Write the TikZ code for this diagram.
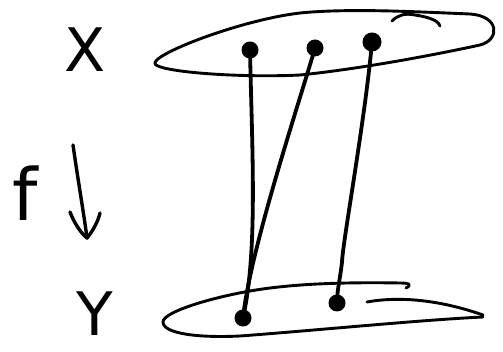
\documentclass[tikz,border=0pt]{standalone}
\usepackage{fontspec}
\setsansfont{DejaVu Sans}
\usetikzlibrary{arrows.meta}
\begin{document}
\begin{tikzpicture}[x=1pt,y=-1pt,
  blob/.style={line width=2.9pt,line cap=round,line join=round},
  map/.style={line width=3.8pt,line cap=round},
  pt/.style={circle,fill=black,inner sep=0pt,minimum width=17pt,minimum height=16pt},
  lbl/.style={font=\sffamily\fontsize{60}{60}\selectfont,inner sep=0pt}]
\useasboundingbox (0,0) rectangle (503,352);
% top set X
\draw[blob] (155,64) .. controls (150,55) and (240,20) .. (300,13)
  .. controls (350,8) and (420,12) .. (470,14)
  .. controls (500,16) and (500,40) .. (480,45)
  .. controls (420,58) and (350,70) .. (300,75)
  .. controls (240,78) and (160,72) .. (155,64);
\draw[blob] (392,21) .. controls (398,15) and (405,13) .. (415,15)
  .. controls (428,17) and (438,20) .. (440,26);
% bottom set Y
\draw[blob] (406,288) .. controls (412,285) and (410,283) .. (400,283)
  .. controls (340,282) and (290,284) .. (250,291)
  .. controls (210,298) and (163,312) .. (163,322)
  .. controls (163,334) and (200,338) .. (240,336)
  .. controls (320,330) and (420,320) .. (483,317);
\draw[blob] (367,302) .. controls (400,296) and (440,300) .. (483,315);
% points
\node[pt] (x1) at (250,50) {};
\node[pt] (x2) at (315,48) {};
\node[pt,minimum width=19pt,minimum height=15pt] (x3) at (372,42) {};
\node[pt] (y1) at (243,318) {};
\node[pt] (y2) at (337,303) {};
% maps
\draw[map] (x1.center) .. controls (252,150) and (258,250) .. (y1.center);
\draw[map] (x2.center) .. controls (300,100) and (250,250) .. (y1.center);
\draw[map] (x3.center) .. controls (365,120) and (343,240) .. (342,262)
  .. controls (340,280) and (337,290) .. (y2.center);
% labels
\node[lbl] (X) at (85,50) {X};
\node[lbl] (Y) at (95,314) {Y};
\node[lbl,font=\sffamily\fontsize{72}{72}\selectfont] (f) at (25,193) {f};
\coordinate (a1) at (73,145);
\coordinate (a2) at (87,238);
\draw[line width=3.4pt,line cap=round,line join=round] (a1) .. controls (78,180) and (84,215) .. (a2);
\draw[line width=3.4pt,line cap=round,line join=round] (70,212) .. controls (75,225) and (82,234) .. (a2) .. controls (92,232) and (98,222) .. (100,213);
\end{tikzpicture}
\end{document}
